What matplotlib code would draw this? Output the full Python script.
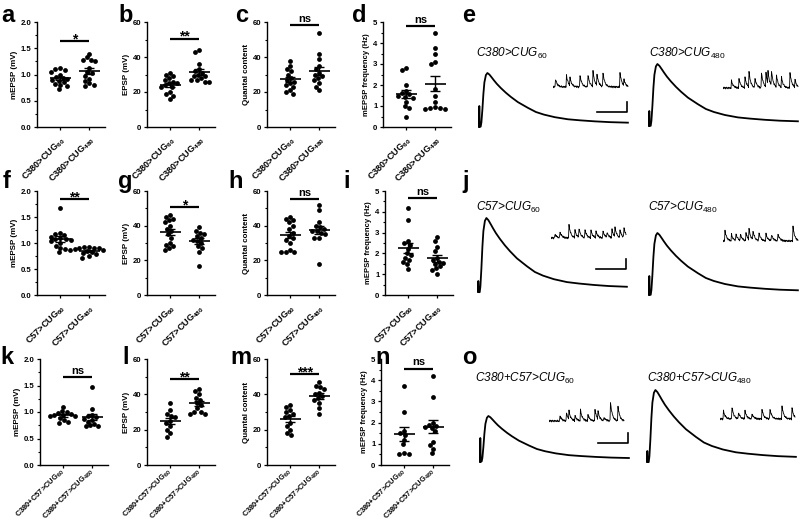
import numpy as np
import matplotlib
matplotlib.use("Agg")
from matplotlib import pyplot as plt
from matplotlib.ticker import MultipleLocator, FormatStrFormatter

plt.rcParams['font.family'] = ['Liberation Sans', 'DejaVu Sans']
plt.rcParams['mathtext.fontset'] = 'custom'
plt.rcParams['mathtext.rm'] = 'Liberation Sans'
plt.rcParams['mathtext.it'] = 'Liberation Sans:italic'
plt.rcParams['mathtext.bf'] = 'Liberation Sans:bold'

# ---------------- data ----------------
# row 1: C380 driver
mepsp_c380_60 = [1.12, 1.10, 1.09, 1.05, 1.00, 0.95, 0.93, 0.92, 0.90, 0.88, 0.85, 0.82, 0.80, 0.78, 0.72]
mepsp_c380_480 = [1.40, 1.33, 1.28, 1.27, 1.25, 1.13, 1.05, 1.03, 0.98, 0.92, 0.88, 0.83, 0.80, 0.79]
epsp_c380_60 = [31, 30, 29, 28, 27, 26, 25, 25, 24, 23, 23, 20, 19, 18, 16]
epsp_c380_480 = [44, 43, 36, 33, 32, 31, 30, 29, 29, 28, 27, 27, 26, 26]
qc_c380_60 = [38, 35, 33, 32, 30, 28, 27, 26, 25, 24, 23, 21, 20, 19]
qc_c380_480 = [54, 42, 39, 35, 33, 31, 30, 29, 28, 27, 25, 23, 21]
freq_c380_60 = [2.8, 2.7, 2.0, 1.7, 1.6, 1.55, 1.5, 1.45, 1.4, 1.2, 1.0, 0.9, 0.5]
freq_c380_480 = [4.5, 3.75, 3.5, 3.1, 3.0, 1.8, 1.5, 1.2, 0.9, 0.85, 0.85, 0.9, 0.95]

# row 2: C57 driver
mepsp_c57_60 = [1.68, 1.20, 1.17, 1.15, 1.12, 1.10, 1.08, 1.07, 1.05, 1.03, 1.00, 0.95, 0.90, 0.88, 0.82]
mepsp_c57_480 = [0.93, 0.92, 0.91, 0.90, 0.90, 0.88, 0.87, 0.86, 0.85, 0.83, 0.80, 0.78, 0.75, 0.72]
epsp_c57_60 = [46, 45, 44, 43, 42, 40, 38, 37, 35, 33, 30, 29, 28, 27, 26]
epsp_c57_480 = [39, 37, 36, 35, 34, 33, 32, 31, 30, 28, 27, 25, 17]
qc_c57_60 = [45, 44, 43, 42, 40, 38, 36, 34, 33, 32, 30, 26, 25, 25, 25]
qc_c57_480 = [52, 49, 42, 40, 39, 38, 37, 37, 36, 35, 33, 33, 18]
freq_c57_60 = [4.2, 3.6, 2.6, 2.5, 2.4, 2.2, 2.0, 1.9, 1.8, 1.7, 1.6, 1.5, 1.25]
freq_c57_480 = [2.8, 2.6, 2.3, 2.1, 1.8, 1.7, 1.6, 1.55, 1.5, 1.4, 1.3, 1.2, 1.0]

# row 3: C380+C57 drivers
mepsp_both_60 = [1.10, 1.02, 1.00, 0.98, 0.96, 0.95, 0.94, 0.93, 0.92, 0.88, 0.85, 0.82, 0.80]
mepsp_both_480 = [1.48, 1.06, 0.95, 0.92, 0.90, 0.87, 0.85, 0.82, 0.78, 0.75, 0.74, 0.73]
epsp_both_60 = [35, 31, 29, 28, 27, 25, 24, 22, 20, 18, 16]
epsp_both_480 = [43, 42, 40, 38, 37, 35, 34, 32, 30, 30, 29, 29]
qc_both_60 = [34, 33, 31, 30, 29, 28, 27, 24, 22, 20, 18, 17]
qc_both_480 = [47, 45, 44, 43, 41, 40, 39, 38, 37, 35, 32, 29]
freq_both_60 = [3.75, 2.5, 1.6, 1.5, 1.4, 1.2, 1.0, 0.55, 0.5, 0.5]
freq_both_480 = [4.2, 3.2, 2.0, 1.9, 1.85, 1.8, 1.75, 1.6, 1.1, 0.95, 0.75, 0.55]

drivers = ['C380', 'C57', 'C380+C57']
measures = ['mEPSP (mV)', 'EPSP (mV)', 'Quantal content', 'mEPSP frequency (Hz)']
series = [
    [(mepsp_c380_60, mepsp_c380_480), (epsp_c380_60, epsp_c380_480),
     (qc_c380_60, qc_c380_480), (freq_c380_60, freq_c380_480)],
    [(mepsp_c57_60, mepsp_c57_480), (epsp_c57_60, epsp_c57_480),
     (qc_c57_60, qc_c57_480), (freq_c57_60, freq_c57_480)],
    [(mepsp_both_60, mepsp_both_480), (epsp_both_60, epsp_both_480),
     (qc_both_60, qc_both_480), (freq_both_60, freq_both_480)],
]
sig_text = [['*', '**', 'ns', 'ns'], ['**', '*', 'ns', 'ns'], ['ns', '**', '***', 'ns']]
sig_y = [[1.63, 50.4, 58.5, 4.8], [1.84, 50.7, 55.5, 4.65], [1.66, 48.5, 51.5, 4.55]]
letters = [['a', 'b', 'c', 'd', 'e'], ['f', 'g', 'h', 'i', 'j'], ['k', 'l', 'm', 'n', 'o']]

# y scales: (max, major, minor, format)
yscale = [(2, 0.5, 0.25, '%.1f'), (60, 20, 10, '%d'), (60, 20, 10, '%d'), (5, 1, 0.5, '%d')]

# representative traces (mV / ms)
epsp_t = [0.0, 0.8, 1.5, 2.5, 3.5, 4.5, 6, 7.5, 9.5, 12, 14, 17, 21, 26, 31, 38, 48, 56,
          64, 75, 88, 100, 115, 130, 148]
epsp_shape = [-0.03, -0.03, 0.05, 0.30, 0.60, 0.82, 0.96, 1.00, 0.97, 0.91, 0.86, 0.79,
              0.71, 0.62, 0.54, 0.44, 0.33, 0.25, 0.20, 0.15, 0.11, 0.09, 0.07, 0.055, 0.045]
trace_peak = [[26, 30], [36, 30], [22, 35]]
trace_artifact = [[9.5, 6.5], [4.5, 8.5], [11, 4.5]]
scalebar_v = [6.5, 10.5, 8.5]

# spontaneous events: (time ms, amplitude mV)
minis = [
    [[(2.3, 0.9), (13.3, 1.3), (16.7, 0.9), (26.7, 1.4), (35, 1.2), (40, 1.5), (44, 1.1),
      (50, 1.4), (66.7, 1.7), (70.7, 0.7)],
     [(8.3, 0.8), (16, 0.9), (21.7, 1.2), (25.7, 1.8), (31.7, 1.1), (38.3, 1.7), (42.7, 1.6),
      (45, 1.2), (48.3, 1.7), (53.3, 1.3), (58.3, 1.1), (66.7, 1.8), (71.7, 0.9)]],
    [[(4, 0.4), (9, 0.6), (18, 1.3), (24, 0.7), (28, 0.9), (34, 0.8), (40, 0.7), (45, 0.6),
      (52, 0.7), (56, 0.5), (61, 0.8), (64, 0.9), (69, 0.7), (73, 1.0)],
     [(1.7, 1.2), (8.3, 0.7), (12.7, 0.8), (17.3, 0.7), (22.7, 0.9), (26, 1.1), (30, 0.9),
      (36, 0.8), (42.7, 0.8), (48.3, 0.7), (55, 0.7), (70, 1.4)]],
    [[(10.7, 0.6), (17.3, 0.9), (20, 0.8), (25.7, 0.6), (31.3, 1.2), (39, 0.6), (45.7, 1.3),
      (49, 0.8), (54.7, 0.4), (61.3, 2.1), (69, 1.4)],
     [(3.3, 0.9), (11.7, 1.4), (18.3, 0.7), (25, 0.8), (31.7, 0.6), (41.7, 1.1), (50, 1.0),
      (61.7, 1.5), (71.7, 1.3)]],
]
noise = [0.05, -0.08, 0.10, -0.03, 0.07, -0.10, 0.02, 0.09, -0.06, 0.04, -0.09, 0.08,
         -0.02, 0.06, -0.07, 0.03, -0.05, 0.10, -0.04, 0.01, -0.08, 0.07, -0.01]

# ---------------- layout (pixels, origin top-left) ----------------
W, H = 800, 521
fig = plt.figure(figsize=(8, 5.21), dpi=100)

def box(x0, y0, w, h):
    return fig.add_axes([x0 / W, 1 - (y0 + h) / H, w / W, h / H])

def ftext(x, y, s, **kw):
    fig.text(x / W, 1 - y / H, s, **kw)

col_left = [[37, 147, 267, 383], [37, 147, 267, 385], [40, 147, 267, 381]]
row_top = [22, 191, 359]
row_bot = [127, 295, 465]
letter_x = [[1, 118, 235, 352, 462], [3, 118, 228, 343, 462], [0, 122, 230, 375, 462]]
letter_base = [22, 188, 364]
xlab_size = [6.6, 6.6, 5.4]
xlab_va = ['top', 'top', 'center']
xlab_pad = [3, 3, 1.5]
XL = (0.2, 2.55)
AXW = 68

def swarm(vals, ppx, ppy, dia=4.3):
    vals = np.asarray(vals, float)
    xs = np.zeros(len(vals))
    placed = []
    cands = sorted(np.arange(-30, 31) * 0.8, key=lambda c: (abs(c), c))
    for i in np.argsort(vals)[::-1]:
        yp = vals[i] * ppy
        for c in cands:
            if all((c - px) ** 2 + (yp - py) ** 2 >= dia ** 2 for px, py in placed):
                break
        placed.append((c, yp))
        xs[i] = c / ppx
    return xs

for r in range(3):
    for c in range(4):
        ax = box(col_left[r][c], row_top[r], AXW, row_bot[r] - row_top[r])
        ymax, major, minor, fmt = yscale[c]
        ppx = AXW / (XL[1] - XL[0])
        ppy = (row_bot[r] - row_top[r]) / ymax
        for g, vals in enumerate(series[r][c]):
            vals = np.asarray(vals, float)
            x = g + 1 + swarm(vals, ppx, ppy)
            ax.scatter(x, vals, s=12, color='black', linewidths=0, zorder=3, clip_on=False)
            m = vals.mean()
            se = vals.std(ddof=1) / np.sqrt(len(vals))
            ax.hlines(m, g + 1 - 0.36, g + 1 + 0.36, color='black', lw=1.2, zorder=4)
            ax.vlines(g + 1, m - se, m + se, color='black', lw=1.0, zorder=4)
            ax.hlines([m - se, m + se], g + 1 - 0.17, g + 1 + 0.17, color='black', lw=1.0, zorder=4)
        ax.set_xlim(*XL)
        ax.set_ylim(0, ymax)
        ax.yaxis.set_major_locator(MultipleLocator(major))
        ax.yaxis.set_minor_locator(MultipleLocator(minor))
        ax.yaxis.set_major_formatter(FormatStrFormatter(fmt))
        ax.set_xticks([1, 2])
        labs = [drivers[r] + '>CUG$_{\\mathbf{60}}$', drivers[r] + '>CUG$_{\\mathbf{480}}$']
        ax.set_xticklabels(labs, rotation=45, ha='right', va=xlab_va[r], rotation_mode='anchor',
                           fontsize=xlab_size[r], fontweight='bold')
        for t in ax.get_yticklabels():
            t.set_fontweight('bold')
        ax.tick_params(axis='y', labelsize=5.6, length=2.5, width=0.9, pad=1.5)
        ax.tick_params(axis='y', which='minor', length=1.5, width=0.8)
        ax.tick_params(axis='x', length=2.5, width=0.9, pad=xlab_pad[r])
        ax.set_ylabel(measures[c], fontsize=5.5 if c == 3 else 5.8, fontweight='bold', labelpad=2)
        for s in ['top', 'right']:
            ax.spines[s].set_visible(False)
        for s in ['left', 'bottom']:
            ax.spines[s].set_linewidth(1.0)
        ax.patch.set_alpha(0)
        sy = sig_y[r][c]
        ax.plot([1, 2], [sy, sy], color='black', lw=1.6, clip_on=False, solid_capstyle='butt')
        st = sig_text[r][c]
        if st == 'ns':
            ax.annotate(st, (1.5, sy), xytext=(0, 2.2), textcoords='offset points', ha='center',
                        va='baseline', fontsize=8, fontweight='bold', annotation_clip=False)
        else:
            ax.annotate(st, (1.5, sy), xytext=(0, -1.5), textcoords='offset points', ha='center',
                        va='baseline', fontsize=10, fontweight='bold', annotation_clip=False)

# panel letters
for r in range(3):
    for c in range(5):
        ftext(letter_x[r][c], letter_base[r], letters[r][c], fontsize=17, fontweight='bold',
              va='baseline', ha='left')

# ---------------- trace panels e, j, o ----------------
trace_x = [[479, 649], [478, 649], [480, 647]]
trace_base = [[125, 124], [290, 293], [460, 460]]
label_y = [53, 207, 378]
label_x = [[476, 649], [476, 648], [475, 647]]
mini_x = [[553, 723], [551, 723], [549, 720]]
mini_base = [[87, 88], [238, 241], [421, 419]]

for r in range(3):
    for k in range(2):
        ax = box(trace_x[r][k] - 4, trace_base[r][k] - 75, 156, 80)
        tt = [0.0, 0.3, 0.7] + [t + 0.9 for t in epsp_t]
        vv = [-1.0, trace_artifact[r][k], -1.0] + [trace_peak[r][k] * s for s in epsp_shape]
        ax.plot(tt, vv, color='black', lw=1.3, solid_joinstyle='round')
        ax.set_xlim(-4, 152)
        ax.set_ylim(-2.5, 37.5)
        ax.axis('off')
        if k == 0:
            sb = scalebar_v[r]
            ax.plot([118, 148, 148], [sb, sb, sb + 5], color='black', lw=1.2)
        lab = drivers[r] + '>CUG$_{\\mathit{' + ('60' if k == 0 else '480') + '}}$'
        ftext(label_x[r][k], label_y[r], lab, fontsize=8.5, style='italic', va='center', ha='left')

        mx = box(mini_x[r][k], mini_base[r][k] - 24, 76, 30)
        t = np.arange(0, 75.01, 0.5)
        v = np.resize(np.array(noise), t.size)
        for t0, h in minis[r][k]:
            msk = t >= t0
            v[msk] += h * np.exp(-(t[msk] - t0) / 1.8)
        mx.plot(t, v, color='black', lw=0.6)
        mx.set_xlim(0, 76)
        mx.set_ylim(-0.6, 2.4)
        mx.axis('off')

fig.savefig('out.png', dpi=100)
